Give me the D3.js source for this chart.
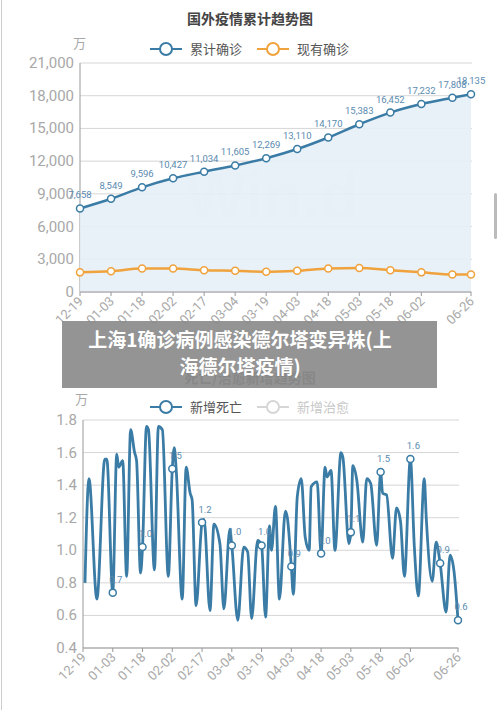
<!DOCTYPE html>
<html><head><meta charset="utf-8">
<script src="https://cdn.jsdelivr.net/npm/d3@7"></script>
<style>
body{margin:0;background:#fff;font-family:"Noto Sans CJK SC","Noto Sans",sans-serif;}
svg{display:block;}
</style></head>
<body>
<svg id="c" width="500" height="710"></svg>
<script>
// base date 2020-12-19, points as day offsets
const base = new Date(2020, 11, 19);
const tickDays = [0, 15, 30, 45, 60, 75, 90, 105, 120, 135, 150, 165, 189];

const cumDays = [0, 15, 30, 45, 60, 75, 90, 105, 120, 135, 150, 165, 180, 189];
const cumConfirmed = [7658, 8549, 9596, 10427, 11034, 11605, 12269, 13110, 14170, 15383, 16452, 17232, 17808, 18135];
const curConfirmed = [1800, 1900, 2150, 2150, 2000, 1950, 1850, 1950, 2150, 2200, 2000, 1800, 1600, 1600];

const deathDays = [1,3,7,11,12,15,17,18,20,22,24,26,27,29,30,32,33,36,38,40,43,45,46,47,50,52,54,55,57,60,61,64,66,69,71,74,75,78,81,83,85,88,90,92,94,95,97,99,102,103,105,106,108,110,112,114,115,118,120,122,123,125,127,130,131,134,135,136,138,141,143,145,148,150,151,153,156,158,160,162,165,167,169,172,173,176,178,180,183,185,187,189];
const deathVals = [0.80,1.44,0.70,1.56,1.56,0.74,1.59,1.51,1.55,0.84,1.74,1.60,1.55,0.86,1.02,1.76,1.74,0.88,1.76,1.74,0.84,1.50,1.63,1.49,0.70,1.51,1.35,1.31,0.66,1.17,1.19,0.63,1.16,1.04,0.64,1.13,1.03,0.57,1.02,0.99,0.58,1.06,1.03,0.59,1.15,1.00,1.27,0.70,1.24,1.20,0.90,0.73,1.33,1.44,1.08,1.00,1.39,1.42,0.98,1.51,1.45,1.49,1.00,1.60,1.57,1.04,1.11,1.52,1.43,1.05,1.44,1.41,1.03,1.48,1.35,1.34,0.95,1.26,1.18,0.84,1.56,1.02,0.72,1.44,1.20,0.81,1.05,0.92,0.62,0.97,0.87,0.57];
const markDays = [15, 30, 45, 60, 75, 90, 105, 120, 135, 150, 165, 180, 189];
const markLabels = ["0.7","1.0","1.5","1.2","1.0","1.0","0.9","1.0","1.1","1.5","1.6","0.9","0.6"];

const svg = d3.select('#c');
const day = d => d3.timeDay.offset(base, d);
const fmt = d3.timeFormat('%m-%d');
const blue = '#3a7ca5', orange = '#f0a23c', grid = '#d6d6d6', gray = '#a8a8a8';

// side edges of the screenshot
svg.append('line').attr('x1',1.5).attr('x2',1.5).attr('y1',0).attr('y2',710).attr('stroke','#ccc');
svg.append('rect').attr('x',494).attr('y',193).attr('width',3).attr('height',46).attr('rx',1.5).attr('fill','#bbb');

function xAxis(g, x, y0) {
  g.append('line').attr('x1', x.range()[0]).attr('x2', x.range()[1])
    .attr('y1', y0).attr('y2', y0).attr('stroke', '#999');
  tickDays.forEach(d => {
    const px = x(day(d));
    g.append('line').attr('x1', px).attr('x2', px).attr('y1', y0).attr('y2', y0 + 4).attr('stroke', '#999');
    g.append('text').attr('transform', `translate(${px + 4},${y0 + 10}) rotate(-45)`)
      .attr('text-anchor', 'end').attr('font-size', 13).attr('fill', gray)
      .attr('font-family', 'Roboto, sans-serif').text(fmt(day(d)));
  });
}

function yAxis(g, y, x0, x1, ticks, f) {
  ticks.forEach(t => {
    g.append('line').attr('x1', x0).attr('x2', x1).attr('y1', y(t)).attr('y2', y(t)).attr('stroke', grid);
    g.append('text').attr('x', x0 - 6).attr('y', y(t) + 5).attr('text-anchor', 'end')
      .attr('font-size', 15).attr('fill', gray).attr('font-family', 'Roboto, sans-serif').text(f(t));
  });
  g.append('line').attr('x1', x0).attr('x2', x0).attr('y1', y.range()[1]).attr('y2', y.range()[0]).attr('stroke', '#999');
}

function legend(g, cx, cy, items) {
  items.forEach((it, i) => {
    const x0 = cx + i * 107;
    g.append('line').attr('x1', x0).attr('x2', x0 + 32).attr('y1', cy).attr('y2', cy).attr('stroke', it.c).attr('stroke-width', 2);
    g.append('circle').attr('cx', x0 + 16).attr('cy', cy).attr('r', 6).attr('fill', '#fff').attr('stroke', it.c).attr('stroke-width', 2);
    g.append('text').attr('x', x0 + 40).attr('y', cy + 5).attr('font-size', 13).attr('fill', it.t).text(it.n);
  });
}

// ---- top chart
const topG = svg.append('g');
const x1 = d3.scaleTime().domain([day(0), day(189)]).range([80, 471]);
const y1 = d3.scaleLinear().domain([0, 21000]).range([292, 63]);
topG.append('text').attr('x', 250).attr('y', 24).attr('text-anchor', 'middle').attr('font-size', 14).attr('font-weight', 'bold').attr('fill', '#444').text('国外疫情累计趋势图');
topG.append('text').attr('x', 73).attr('y', 48).attr('font-size', 13).attr('fill', gray).text('万');
legend(topG, 150, 49, [{n: '累计确诊', c: blue, t: '#555'}, {n: '现有确诊', c: orange, t: '#555'}]);
yAxis(topG, y1, 80, 472, d3.range(0, 21001, 3000), d3.format(','));
topG.append('text').attr('x', 272).attr('y', 218).attr('text-anchor', 'middle').attr('font-size', 64).attr('font-weight', 'bold').attr('fill', '#000').attr('opacity', 0.05).attr('font-family', 'Liberation Sans, sans-serif').text('Win.d');

const cum = cumDays.map((d, i) => ({d, v: cumConfirmed[i]}));
const cur = cumDays.map((d, i) => ({d, v: curConfirmed[i]}));
topG.append('path').datum(cum).attr('fill', '#e6eef7').attr('opacity', 0.9)
  .attr('d', d3.area().curve(d3.curveMonotoneX).x(p => x1(day(p.d))).y0(y1(0)).y1(p => y1(p.v)));
[[cur, orange], [cum, blue]].forEach(([data, c]) => {
  topG.append('path').datum(data).attr('fill', 'none').attr('stroke', c).attr('stroke-width', 2.5)
    .attr('d', d3.line().curve(d3.curveMonotoneX).x(p => x1(day(p.d))).y(p => y1(p.v)));
  topG.selectAll(null).data(data).join('circle').attr('cx', p => x1(day(p.d))).attr('cy', p => y1(p.v))
    .attr('r', 3.5).attr('fill', '#fff').attr('stroke', c).attr('stroke-width', 1.5);
});
topG.selectAll(null).data(cum).join('text')
  .attr('x', p => x1(day(p.d))).attr('y', p => y1(p.v) - 10)
  .attr('text-anchor', 'middle').attr('font-size', 9.5).attr('fill', '#5a8bb0')
  .attr('font-family', 'Roboto, sans-serif').text(p => d3.format(',')(p.v));
xAxis(topG, x1, 292);

// ---- bottom chart
const bot = svg.append('g');
const x2 = d3.scaleTime().domain([day(0), day(189)]).range([83, 458]);
const y2 = d3.scaleLinear().domain([0.4, 1.8]).range([648, 420]);
bot.append('text').attr('x', 250).attr('y', 383).attr('text-anchor', 'middle').attr('font-size', 14).attr('font-weight', 'bold').attr('fill', '#444').text('死亡/治愈新增趋势图');
bot.append('text').attr('x', 75).attr('y', 404).attr('font-size', 13).attr('fill', gray).text('万');
legend(bot, 150, 407, [{n: '新增死亡', c: blue, t: '#555'}, {n: '新增治愈', c: '#d6d6d6', t: '#c8c8c8'}]);
yAxis(bot, y2, 83, 459, d3.range(0.4, 1.81, 0.2), d3.format('.1f'));
const deaths = deathDays.map((d, i) => ({d, v: deathVals[i]}));
bot.append('path').datum(deaths).attr('fill', 'none').attr('stroke', blue).attr('stroke-width', 2.8)
  .attr('d', d3.line().curve(d3.curveMonotoneX).x(p => x2(day(p.d))).y(p => y2(p.v)));
const marks = markDays.map((d, i) => ({d, v: deathVals[deathDays.indexOf(d)], l: markLabels[i]}));
bot.selectAll(null).data(marks).join('circle').attr('cx', p => x2(day(p.d))).attr('cy', p => y2(p.v))
  .attr('r', 3.5).attr('fill', '#fff').attr('stroke', blue).attr('stroke-width', 1.5);
bot.selectAll(null).data(marks).join('text').attr('x', p => x2(day(p.d)) + 3).attr('y', p => y2(p.v) - 10)
  .attr('text-anchor', 'middle').attr('font-size', 9.5).attr('fill', '#5a8bb0')
  .attr('font-family', 'Roboto, sans-serif').text(p => p.l);
xAxis(bot, x2, 648);

// ---- caption banner
svg.append('rect').attr('x', 62).attr('y', 321).attr('width', 375).attr('height', 67).attr('fill', '#8c8c8c').attr('opacity', 0.93);
[['上海1确诊病例感染德尔塔变异株(上', 347], ['海德尔塔疫情)', 374]].forEach(([t, y]) => {
  svg.append('text').attr('x', 240).attr('y', y).attr('text-anchor', 'middle').attr('font-size', 19)
    .attr('font-weight', 'bold').attr('fill', '#fff').text(t);
});
</script>
</body></html>
